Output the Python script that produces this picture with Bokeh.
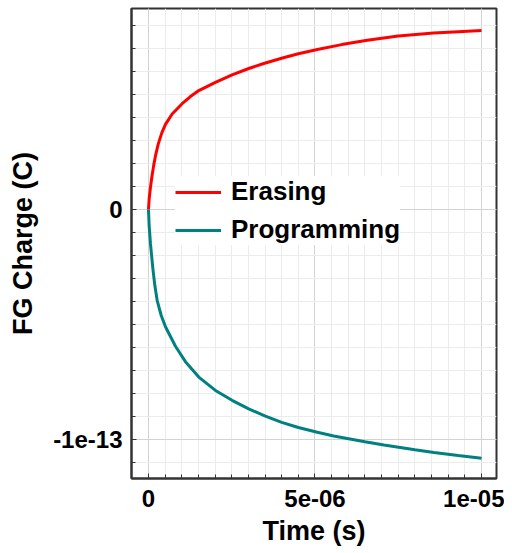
from bokeh.plotting import figure
from bokeh.models import Range1d, SingleIntervalTicker, CustomJSTickFormatter
from bokeh.embed import file_html
from bokeh.resources import INLINE

# Data: time in microseconds, charge in units of 1e-13 C
t_erase_us = [0, 0.02, 0.06, 0.10, 0.16, 0.22, 0.29, 0.40, 0.51, 0.71, 1.01, 1.25, 1.51,
              2.01, 2.51, 3.01, 3.46, 4.05, 4.5, 5.07, 5.8, 6.57, 7.5, 8.56, 9.3, 10.0]
q_erase_e13 = [0, 0.045, 0.097, 0.14, 0.195, 0.24, 0.283, 0.333, 0.37, 0.415, 0.46, 0.49, 0.517,
               0.553, 0.585, 0.613, 0.635, 0.66, 0.677, 0.696, 0.717, 0.736, 0.754, 0.767, 0.773, 0.778]

t_prog_us = [0, 0.02, 0.06, 0.13, 0.19, 0.26, 0.38, 0.51, 0.81, 1.11, 1.51, 2.01, 2.51,
             3.01, 3.51, 4.0, 4.5, 5.07, 5.56, 6.5, 7.07, 8.0, 8.57, 9.3, 10.0]
q_prog_e13 = [0, -0.07, -0.15, -0.255, -0.33, -0.395, -0.46, -0.51, -0.595, -0.662, -0.729, -0.787, -0.830,
              -0.867, -0.899, -0.926, -0.948, -0.969, -0.985, -1.01, -1.024, -1.045, -1.057, -1.07, -1.082]

t_erase = [v * 1e-6 for v in t_erase_us]
q_erase = [v * 1e-13 for v in q_erase_e13]
t_prog = [v * 1e-6 for v in t_prog_us]
q_prog = [v * 1e-13 for v in q_prog_e13]

x_ticks = [0, 5e-6, 1e-5]
x_tick_labels = ["0", "5e-06", "1e-05"]
y_ticks = [-1e-13, 0, 1e-13]
y_tick_labels = ["-1e-13", "0", "1e-13"]

FONT = "Liberation Sans"

p = figure(width=504, height=549, output_backend="svg", toolbar_location=None,
           x_range=Range1d(-5.1e-7, 1.045e-5), y_range=Range1d(-1.17e-13, 0.874e-13),
           min_border_left=131, min_border_right=8, min_border_top=8, min_border_bottom=71,
           x_axis_label="Time (s)", y_axis_label="FG Charge (C)")
p.background_fill_color = "white"
p.border_fill_color = "white"
p.outline_line_color = "#333333"
p.outline_line_width = 2

p.xaxis.ticker = SingleIntervalTicker(interval=5e-6, num_minor_ticks=10)
p.yaxis.ticker = SingleIntervalTicker(interval=1e-13, num_minor_ticks=10)
p.xgrid.ticker = p.xaxis.ticker
p.ygrid.ticker = p.yaxis.ticker

fmt_code = """
let best = 0;
for (let i = 0; i < tvals.length; i++) {
  if (Math.abs(tvals[i] - tick) < Math.abs(tvals[best] - tick)) best = i;
}
return tlabels[best];
"""
p.xaxis.formatter = CustomJSTickFormatter(args=dict(tvals=x_ticks, tlabels=x_tick_labels), code=fmt_code)
p.yaxis.formatter = CustomJSTickFormatter(args=dict(tvals=y_ticks, tlabels=y_tick_labels), code=fmt_code)

for ax in (p.xaxis, p.yaxis):
    ax.axis_line_color = "#333333"
    ax.axis_line_width = 2
    ax.major_tick_line_color = "#333333"
    ax.minor_tick_line_color = "#333333"
    ax.major_tick_in = 5
    ax.major_tick_out = 0
    ax.minor_tick_in = 4
    ax.minor_tick_out = 0
    ax.major_label_text_font = FONT
    ax.major_label_text_font_style = "bold"
    ax.major_label_text_font_size = "24px"
    ax.major_label_text_color = "black"
    ax.axis_label_text_font = FONT
    ax.axis_label_text_font_style = "bold"
    ax.axis_label_text_font_size = "27px"
    ax.axis_label_text_color = "black"
p.xaxis.major_label_standoff = 11
p.yaxis.major_label_standoff = 9
p.xaxis.axis_label_standoff = 6
p.yaxis.axis_label_standoff = 12

for g in (p.xgrid, p.ygrid):
    g.grid_line_color = "#d3d3d3"
    g.grid_line_width = 1
    g.minor_grid_line_color = "#ececec"
    g.minor_grid_line_width = 1

p.line(t_erase, q_erase, line_color="#ff0000", line_width=3, legend_label="Erasing")
p.line(t_prog, q_prog, line_color="#008080", line_width=3, legend_label="Programming")

lg = p.legend[0]
lg.location = (44, 233)
lg.background_fill_color = "white"
lg.background_fill_alpha = 1.0
lg.border_line_color = None
lg.label_text_font = FONT
lg.label_text_font_style = "bold"
lg.label_text_font_size = "26px"
lg.label_text_color = "black"
lg.glyph_width = 46
lg.label_standoff = 10
lg.padding = 7
lg.spacing = 7
lg.margin = 0

open("out.html", "w").write(file_html(p, INLINE))
